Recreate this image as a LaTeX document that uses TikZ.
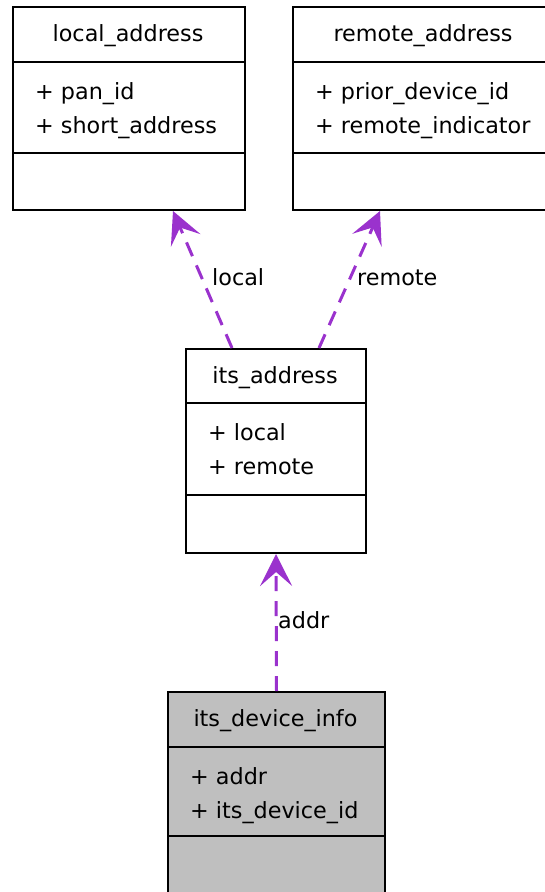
\documentclass[tikz,border=0pt]{standalone}
\usepackage{fontspec}
\setmainfont{DejaVu Sans}
\usetikzlibrary{arrows.meta,calc}
\definecolor{usecol}{RGB}{154,50,205}
\definecolor{hilite}{RGB}{191,191,191}
\begin{document}
\begin{tikzpicture}[x=1pt,y=-1pt,
  classbox/.style={draw=black, line width=2pt, fill=white, inner sep=0pt, anchor=north west},
  sep/.style={line width=2pt},
  lbl/.style={font=\fontsize{22.3}{26}\selectfont, inner sep=0pt},
  title/.style={lbl, anchor=base},
  attr/.style={lbl, anchor=base west},
  uses/.style={draw=usecol, line width=3pt, dash pattern=on 15pt off 10pt,
    -{Stealth[length=32pt,width=32pt,inset=14pt]}}
]
\useasboundingbox (0,0) rectangle (545,892);
\clip (0,0) rectangle (545,892);

% class local_address
\node[classbox, minimum width=232pt, minimum height=203pt] (local) at (12,6) {};
\draw[sep] (12,62) -- (244,62);
\draw[sep] (12,153) -- (244,153);
\node[title] (localT) at (128,41) {local\_address};
\node[attr] (localA1) at (35,99) {+ pan\_id};
\node[attr] (localA2) at (35,133) {+ short\_address};

% class remote_address
\node[classbox, minimum width=262pt, minimum height=203pt] (remote) at (292,6) {};
\draw[sep] (292,62) -- (554,62);
\draw[sep] (292,153) -- (554,153);
\node[title] (remoteT) at (423,41) {remote\_address};
\node[attr] (remoteA1) at (315,99) {+ prior\_device\_id};
\node[attr] (remoteA2) at (315,133) {+ remote\_indicator};

% class its_address
\node[classbox, minimum width=180pt, minimum height=204pt] (its) at (185,348) {};
\draw[sep] (185,403) -- (365,403);
\draw[sep] (185,495) -- (365,495);
\node[title] (itsT) at (275,383) {its\_address};
\node[attr] (itsA1) at (208,440) {+ local};
\node[attr] (itsA2) at (208,474) {+ remote};

% class its_device_info (highlighted)
\node[classbox, fill=hilite, minimum width=217pt, minimum height=250pt] (dev) at (167,691) {};
\draw[sep] (167,747) -- (384,747);
\draw[sep] (167,836) -- (384,836);
\node[title] (devT) at (275.5,726) {its\_device\_info};
\node[attr] (devA1) at (190,784) {+ addr};
\node[attr] (devA2) at (190,818) {+ its\_device\_id};

% usage relations
\draw[uses] ($(its.north)+(-44,0)$) -- ($(local.south)+(44,0)$);
\draw[uses] ($(its.north)+(43,0)$) -- ($(remote.south)+(-44,0)$);
\draw[uses] (dev.north) -- (its.south);

% relation labels
\node[attr] (lblLocal) at (212,285) {local};
\node[attr] (lblRemote) at (357,285) {remote};
\node[attr] (lblAddr) at (278,628) {addr};
\end{tikzpicture}
\end{document}
